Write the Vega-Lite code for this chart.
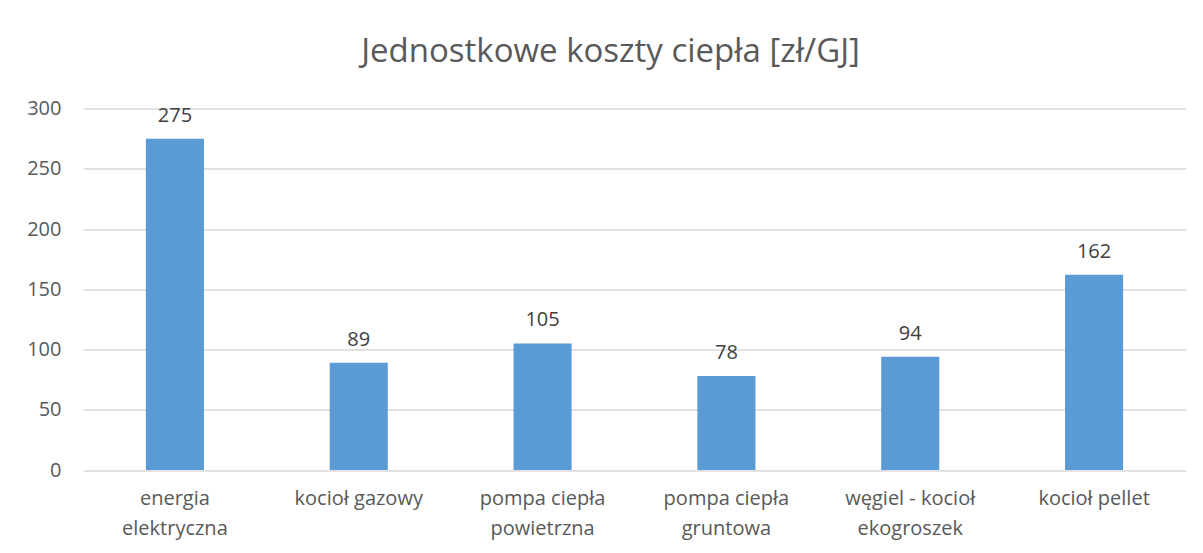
{
  "$schema": "https://vega.github.io/schema/vega-lite/v6.json",
  "autosize": {"type": "none"},
  "width": 1103,
  "height": 361.5,
  "padding": {"left": 83, "top": 108.5, "right": 17, "bottom": 83},
  "background": "white",
  "title": {
    "text": "Jednostkowe koszty ciepła [zł/GJ]",
    "anchor": "middle",
    "dx": -24,
    "offset": 30,
    "font": "Open Sans",
    "fontSize": 33,
    "fontWeight": "normal",
    "color": "#595959"
  },
  "data": {
    "values": [
      {"kategoria": "energia elektryczna", "koszt": 275},
      {"kategoria": "kocioł gazowy", "koszt": 89},
      {"kategoria": "pompa ciepła powietrzna", "koszt": 105},
      {"kategoria": "pompa ciepła gruntowa", "koszt": 78},
      {"kategoria": "węgiel - kocioł ekogroszek", "koszt": 94},
      {"kategoria": "kocioł pellet", "koszt": 162}
    ]
  },
  "encoding": {
    "x": {
      "field": "kategoria",
      "type": "nominal",
      "sort": null,
      "scale": {"paddingInner": 0.684, "paddingOuter": 0.342},
      "axis": {
        "title": null,
        "domain": false,
        "ticks": false,
        "labelAngle": 0,
        "labelFont": "Open Sans",
        "labelFontSize": 20,
        "labelColor": "#595959",
        "labelPadding": 18,
        "labelLineHeight": 30,
        "labelExpr": "datum.value == 'energia elektryczna' ? ['energia', 'elektryczna'] : datum.value == 'pompa ciepła powietrzna' ? ['pompa ciepła', 'powietrzna'] : datum.value == 'pompa ciepła gruntowa' ? ['pompa ciepła', 'gruntowa'] : datum.value == 'węgiel - kocioł ekogroszek' ? ['węgiel - kocioł', 'ekogroszek'] : datum.label"
      }
    },
    "y": {
      "field": "koszt",
      "type": "quantitative",
      "scale": {"domain": [0, 300], "nice": false},
      "axis": {
        "title": null,
        "values": [0, 50, 100, 150, 200, 250, 300],
        "domain": false,
        "ticks": false,
        "labelFont": "Open Sans",
        "labelFontSize": 20,
        "labelColor": "#595959",
        "labelPadding": 22,
        "gridColor": "#d9d9d9",
        "gridWidth": 1.3
      }
    }
  },
  "layer": [
    {"mark": {"type": "bar", "color": "#5b9bd5"}},
    {
      "mark": {
        "type": "text",
        "baseline": "bottom",
        "dy": -13,
        "font": "Open Sans",
        "fontSize": 20,
        "color": "#404040"
      },
      "encoding": {"text": {"field": "koszt", "type": "quantitative"}}
    }
  ],
  "config": {"view": {"stroke": null}}
}
